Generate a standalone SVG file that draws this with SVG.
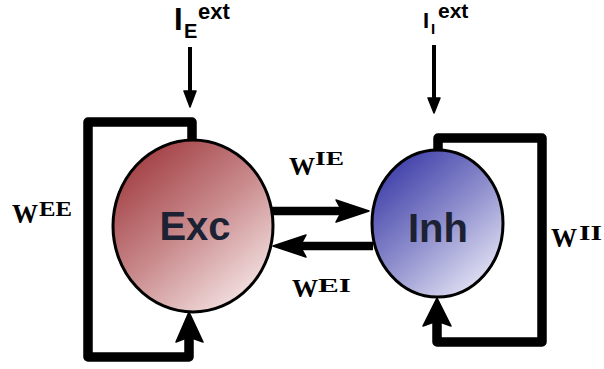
<svg xmlns="http://www.w3.org/2000/svg" width="604" height="369" viewBox="0 0 604 369">
<style>
.loop{fill:none;stroke:#000;stroke-width:9.5;stroke-linejoin:round;stroke-linecap:butt}
.bar{fill:none;stroke:#000;stroke-width:8.5}
.thin{fill:none;stroke:#000;stroke-width:4}
.head{fill:#000;stroke:#000;stroke-width:1.5;stroke-linejoin:round}
.node{stroke:#000;stroke-width:3}
.lbl{font-family:"Liberation Sans",Arial,sans-serif;font-weight:bold;fill:#1c2233}
.inp{font-family:"Liberation Sans",Arial,sans-serif;font-weight:bold;fill:#000}
.w{font-family:"Liberation Serif","Times New Roman",serif;font-weight:bold;fill:#000}
</style>
<defs>
<linearGradient id="gExc" x1="0.15" y1="0.05" x2="0.85" y2="0.95">
<stop offset="0" stop-color="#a03c40"/>
<stop offset="0.5" stop-color="#c98a8c"/>
<stop offset="1" stop-color="#f6e6e6"/>
</linearGradient>
<linearGradient id="gInh" x1="0.15" y1="0.05" x2="0.85" y2="0.95">
<stop offset="0" stop-color="#3c3ca8"/>
<stop offset="0.5" stop-color="#8c8ccc"/>
<stop offset="1" stop-color="#e6e6f6"/>
</linearGradient>
</defs>
<g id="connectors">
<path class="loop" d="M192,142 V122 H88 V357 H189 V336"/>
<polygon class="head" points="189,312 176,342 189,337 203,342"/>
<path class="loop" d="M438,152 V138 H542 V342 H437 V320"/>
<polygon class="head" points="437,298 423,326 437,321 451,326"/>
<path class="bar" d="M272,211 H342"/>
<polygon class="head" points="369,211 336,200 342,211 336,222"/>
<path class="bar" d="M373,246 H300"/>
<polygon class="head" points="273,246 306,235 300,246 306,257"/>
<path class="thin" d="M190,47 V94"/>
<polygon class="head" points="190,107 184,91 196,91"/>
<path class="thin" d="M434,45 V100"/>
<polygon class="head" points="434,113 428,98 440,98"/>
</g>
<g id="exc">
<ellipse class="node" cx="193" cy="226" rx="80" ry="86" fill="url(#gExc)"/>
<text class="lbl" x="195" y="240" font-size="40" text-anchor="middle">Exc</text>
</g>
<g id="inh">
<ellipse class="node" cx="437.5" cy="223.5" rx="65.5" ry="73.5" fill="url(#gInh)"/>
<text class="lbl" x="438" y="242" font-size="40" text-anchor="middle">Inh</text>
</g>
<g id="label-IE-ext">
<text class="inp" x="174" y="30" font-size="31">I</text>
<text class="inp" x="184" y="38" font-size="20">E</text>
<text class="inp" x="198" y="19" font-size="22">ext</text>
</g>
<g id="label-II-ext">
<text class="inp" x="423" y="28" font-size="22">I</text>
<text class="inp" x="431" y="34" font-size="15">I</text>
<text class="inp" x="438" y="18" font-size="21">ext</text>
</g>
<g id="label-WIE">
<text class="w" x="289" y="175" font-size="26" textLength="26" lengthAdjust="spacingAndGlyphs">W</text>
<text class="w" x="315" y="165" font-size="19" textLength="29" lengthAdjust="spacingAndGlyphs">IE</text>
</g>
<g id="label-WEI">
<text class="w" x="292" y="297" font-size="26" textLength="26" lengthAdjust="spacingAndGlyphs">W</text>
<text class="w" x="318" y="292" font-size="19" textLength="33" lengthAdjust="spacingAndGlyphs">EI</text>
</g>
<g id="label-WEE">
<text class="w" x="12" y="223" font-size="28" textLength="26" lengthAdjust="spacingAndGlyphs">W</text>
<text class="w" x="39" y="216" font-size="20" textLength="33" lengthAdjust="spacingAndGlyphs">EE</text>
</g>
<g id="label-WII">
<text class="w" x="551" y="247" font-size="28" textLength="26" lengthAdjust="spacingAndGlyphs">W</text>
<text class="w" x="579" y="240" font-size="20" textLength="23" lengthAdjust="spacingAndGlyphs">II</text>
</g>
</svg>
